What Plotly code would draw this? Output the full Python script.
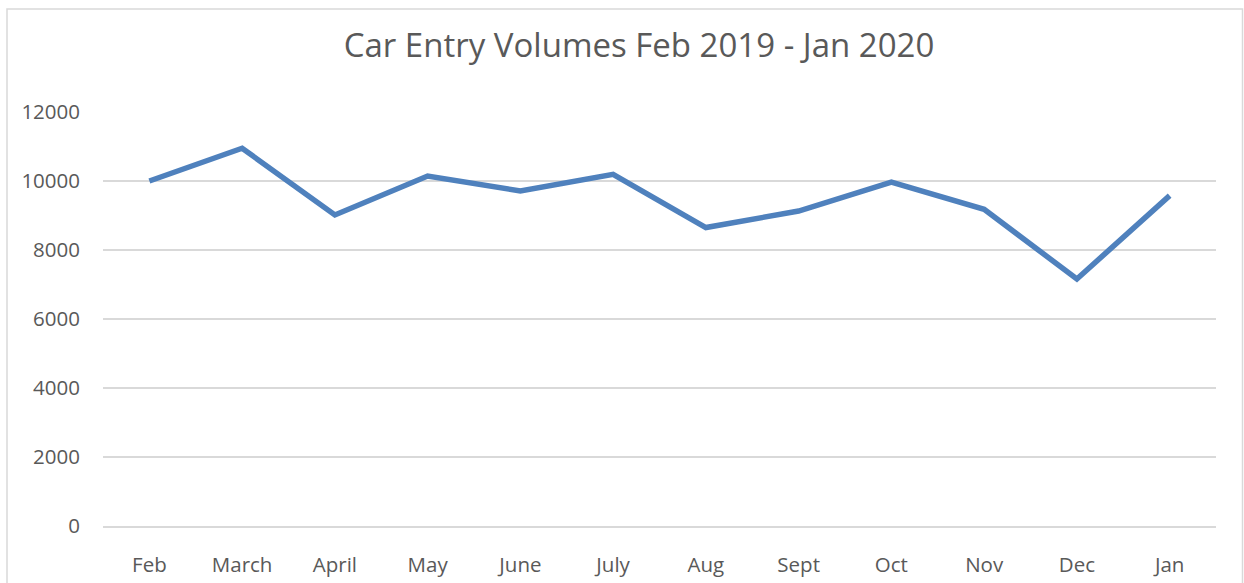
import plotly.graph_objects as go

months = ["Feb", "March", "April", "May", "June", "July", "Aug", "Sept", "Oct", "Nov", "Dec", "Jan"]
entries = [10000, 10950, 9015, 10145, 9710, 10195, 8650, 9130, 9965, 9180, 7160, 9575]
y_ticks = [0, 2000, 4000, 6000, 8000, 10000, 12000]

W, H = 1244, 583
L, R, T, B = 103, 1216, 112, 526

fig = go.Figure()
fig.add_trace(go.Scatter(
    x=months, y=entries, mode="lines",
    line=dict(color="#4F81BD", width=5.5, shape="linear"),
    showlegend=False, hoverinfo="x+y",
))

pw, ph = R - L, B - T
def px_x(v):
    return (v - L) / pw
def px_y(v):
    return (B - v) / ph

fig.update_layout(
    width=W, height=H,
    margin=dict(l=L, r=W - R, t=T, b=H - B, pad=0),
    paper_bgcolor="white", plot_bgcolor="white",
    font=dict(family="Open Sans, Noto Sans, sans-serif", color="#595959"),
    title=dict(text="Car Entry Volumes Feb 2019 - Jan 2020",
               x=639 / W, xanchor="center", xref="container",
               y=1 - 45 / H, yanchor="middle", yref="container",
               font=dict(size=33, color="#595959"), automargin=False),
    xaxis=dict(
        type="category", range=[-0.5, 11.5], automargin=False,
        showgrid=False, zeroline=False,
        showline=True, linecolor="#D9D9D9", linewidth=1.5,
        ticks="", tickfont=dict(size=20.5, color="#595959"),
        ticklabelstandoff=20,
    ),
    yaxis=dict(
        range=[0, 12000], tickvals=y_ticks, ticktext=[str(v) for v in y_ticks],
        automargin=False,
        showgrid=True, gridcolor="#D9D9D9", gridwidth=1.5,
        zeroline=False, showline=False,
        ticks="", tickfont=dict(size=20.5, color="#595959"),
        ticklabelstandoff=22,
    ),
    shapes=[dict(
        type="rect", xref="paper", yref="paper",
        x0=px_x(7), x1=px_x(1242.5), y0=px_y(600), y1=px_y(9),
        line=dict(color="#D9D9D9", width=1.5), fillcolor="rgba(0,0,0,0)", layer="below",
    )],
)

fig.write_html("out.html")
